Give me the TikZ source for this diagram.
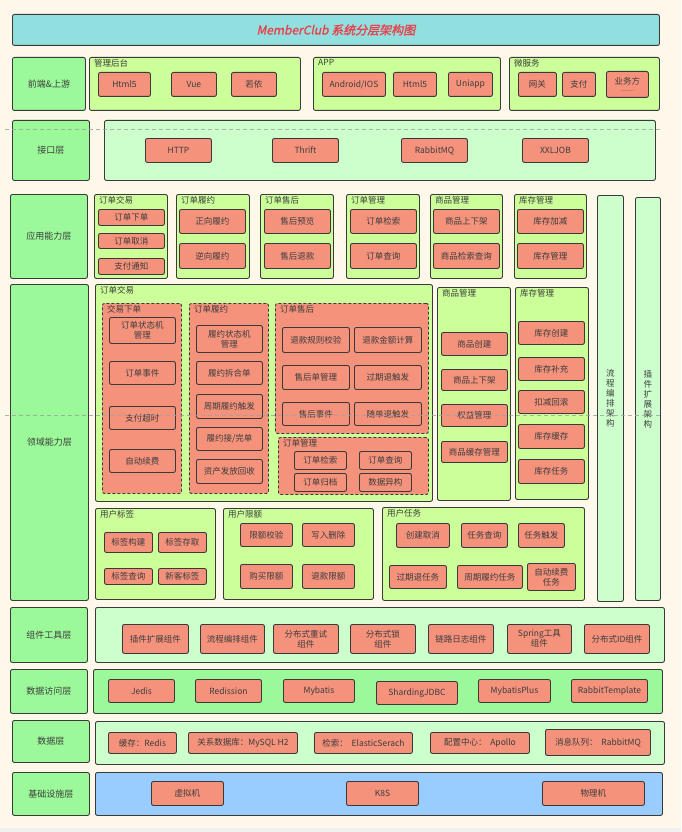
\documentclass[tikz,border=0pt]{standalone}
\usepackage{fontspec}
\setmainfont{Noto Sans CJK SC}
\newfontfamily\titlefont[FakeSlant=0.2,FakeBold=1.5]{Noto Sans CJK SC}
\usetikzlibrary{calc}
\definecolor{bgc}{HTML}{FDF8EA}
\definecolor{stripc}{HTML}{EFEFEF}
\definecolor{edge}{HTML}{3A3A3A}
\definecolor{txt}{HTML}{3C3C3C}
\definecolor{titlec}{HTML}{92DFE0}
\definecolor{titlered}{HTML}{E8414A}
\definecolor{labg}{HTML}{9CF99A}
\definecolor{lime}{HTML}{CCFF99}
\definecolor{mint}{HTML}{CCFFCC}
\definecolor{bluec}{HTML}{99CCFF}
\definecolor{salmon}{HTML}{F5927C}
\tikzset{
  base/.style={draw=edge, line width=0.9pt, rounded corners=2pt, inner sep=0pt,
    align=center, text=txt, font=\fontsize{8.5}{10}\selectfont},
  titlebar/.style={base, fill=titlec, text=titlered, font=\titlefont\fontsize{12}{14}\selectfont},
  layerlab/.style={base, fill=labg, font=\fontsize{9}{11}\selectfont},
  grp/.style={base, fill=lime},
  mintgrp/.style={base, fill=mint},
  greengrp/.style={base, fill=labg},
  bluegrp/.style={base, fill=bluec},
  item/.style={base, fill=salmon},
  vcol/.style={base, fill=mint, font=\fontsize{8.5}{10}\selectfont},
  subgrp/.style={base, fill=salmon, dash pattern=on 3pt off 2pt},
  gtitle/.style={inner sep=0pt, anchor=north west, text=txt, font=\fontsize{8.5}{10}\selectfont},
  sepline/.style={draw=gray!75, line width=0.6pt, dash pattern=on 4pt off 3pt, opacity=0.8},
}
% #1 style, #2 name, #3 x1, #4 y1, #5 x2, #6 y2, #7 text
\newcommand\bx[7]{\node[#1, anchor=north west, minimum width={(#5-#3)*1pt}, minimum height={(#6-#4)*1pt}] (#2) at (#3,#4) {#7};}
% group title: #1 name, #2 group node, #3 text
\newcommand\gt[3]{\node[gtitle] (#1) at ($(#2.north west)+(5,2)$) {#3};}
\begin{document}
\begin{tikzpicture}[x=1pt,y=-1pt]
\useasboundingbox (0,0) rectangle (681,832);
\fill[bgc] (0,0) rectangle (681,832);
\fill[stripc] (0,828) rectangle (681,832);

% title
\bx{titlebar}{title}{12}{14}{659}{45}{MemberClub 系统分层架构图}

% row 1
\bx{layerlab}{Lfront}{12}{57}{85}{110}{前端\&上游}
\bx{grp}{Gadmin}{89}{57}{300}{110}{}
\gt{Tadmin}{Gadmin}{管理后台}
\bx{item}{Ahtml}{98}{72}{150}{96}{Html5}
\bx{item}{Avue}{171}{72}{216}{96}{Vue}
\bx{item}{Aruoyi}{231}{72}{276}{96}{若依}
\bx{grp}{Gapp}{313}{57}{500}{110}{}
\gt{Tapp}{Gapp}{APP}
\bx{item}{Pand}{322}{72}{385}{96}{Android/IOS}
\bx{item}{Phtml}{393}{72}{436}{96}{Html5}
\bx{item}{Puni}{448}{72}{492}{96}{Uniapp}
\bx{grp}{Gms}{509}{57}{659}{110}{}
\gt{Tms}{Gms}{微服务}
\bx{item}{Mgw}{518}{72}{556}{96}{网关}
\bx{item}{Mpay}{562}{72}{595}{96}{支付}
\bx{item}{Mbiz}{606}{71}{648}{97}{业务方\\[-3pt]{\fontsize{6}{6}\selectfont ........}}

% row 2
\bx{layerlab}{Lapi}{12}{120}{89}{180}{接口层}
\bx{mintgrp}{Gapi}{104}{120}{655}{180}{}
\bx{item}{Ihttp}{145}{138}{211}{162}{HTTP}
\bx{item}{Ithrift}{272}{138}{338}{162}{Thrift}
\bx{item}{Irmq}{401}{138}{467}{162}{RabbitMQ}
\bx{item}{Ixxl}{522}{138}{588}{162}{XXLJOB}

% row 3 application
\bx{layerlab}{Lappc}{10}{194}{87}{278}{应用能力层}
\bx{grp}{Gtrade}{94}{194}{167}{278}{}
\gt{Ttrade}{Gtrade}{订单交易}
\bx{item}{Ta1}{98}{209}{164}{225}{订单下单}
\bx{item}{Ta2}{98}{233}{164}{248}{订单取消}
\bx{item}{Ta3}{98}{258}{164}{274}{支付通知}
\bx{grp}{Gful}{176}{194}{249}{278}{}
\gt{Tful}{Gful}{订单履约}
\bx{item}{Fa1}{179}{209}{245}{233}{正向履约}
\bx{item}{Fa2}{179}{243}{245}{268}{逆向履约}
\bx{grp}{Gafter}{260}{194}{333}{278}{}
\gt{Tafter}{Gafter}{订单售后}
\bx{item}{Sa1}{264}{209}{330}{233}{售后预览}
\bx{item}{Sa2}{264}{243}{330}{268}{售后退款}
\bx{grp}{Gomg}{346}{194}{419}{278}{}
\gt{Tomg}{Gomg}{订单管理}
\bx{item}{Oa1}{350}{209}{416}{233}{订单检索}
\bx{item}{Oa2}{350}{243}{416}{268}{订单查询}
\bx{grp}{Ggoods}{430}{194}{502}{278}{}
\gt{Tgoods}{Ggoods}{商品管理}
\bx{item}{Ga1}{433}{209}{499}{233}{商品上下架}
\bx{item}{Ga2}{433}{243}{499}{268}{商品检索查询}
\bx{grp}{Gstock}{514}{194}{586}{278}{}
\gt{Tstock}{Gstock}{库存管理}
\bx{item}{Ka1}{517}{209}{583}{233}{库存加减}
\bx{item}{Ka2}{517}{243}{583}{268}{库存管理}

% vertical columns
\bx{vcol}{Cflow}{597}{195}{623}{601}{流\\程\\编\\排\\架\\构}
\bx{vcol}{Cplug}{635}{197}{660}{600}{插\\件\\扩\\展\\架\\构}

% row 4 domain
\bx{layerlab}{Ldom}{10}{284}{88}{600}{领域能力层}
\bx{grp}{Dtrade}{95}{284}{432}{501}{}
\gt{DTtrade}{Dtrade}{订单交易}
\bx{subgrp}{Sorder}{102}{303}{181}{493}{}
\gt{STorder}{Sorder}{交易下单}
\bx{item}{So1}{109}{317}{175}{343}{订单状态机\\管理}
\bx{item}{So2}{109}{361}{175}{384}{订单事件}
\bx{item}{So3}{109}{406}{175}{429}{支付超时}
\bx{item}{So4}{109}{449}{175}{472}{自动续费}
\bx{subgrp}{Sful}{189}{303}{268}{493}{}
\gt{STful}{Sful}{订单履约}
\bx{item}{Sf1}{196}{325}{262}{352}{履约状态机\\管理}
\bx{item}{Sf2}{196}{361}{262}{384}{履约拆合单}
\bx{item}{Sf3}{196}{394}{262}{418}{周期履约触发}
\bx{item}{Sf4}{196}{427}{262}{450}{履约接/完单}
\bx{item}{Sf5}{196}{459}{262}{483}{资产发放回收}
\bx{subgrp}{Safter}{275}{303}{428}{433}{}
\gt{STafter}{Safter}{订单售后}
\bx{item}{Ss1}{282}{327}{349}{352}{退款规则校验}
\bx{item}{Ss2}{354}{327}{421}{352}{退款金额计算}
\bx{item}{Ss3}{282}{365}{349}{389}{售后单管理}
\bx{item}{Ss4}{354}{365}{421}{389}{过期退触发}
\bx{item}{Ss5}{282}{402}{349}{425}{售后事件}
\bx{item}{Ss6}{354}{402}{421}{425}{随单退触发}
\bx{subgrp}{Somg}{278}{437}{428}{494}{}
\gt{STomg}{Somg}{订单管理}
\bx{item}{Sm1}{294}{451}{346}{469}{订单检索}
\bx{item}{Sm2}{359}{451}{411}{469}{订单查询}
\bx{item}{Sm3}{294}{473}{346}{491}{订单归档}
\bx{item}{Sm4}{359}{473}{411}{491}{数据异构}
\bx{grp}{Dgoods}{437}{287}{510}{500}{}
\gt{DTgoods}{Dgoods}{商品管理}
\bx{item}{Dg1}{441}{332}{507}{355}{商品创建}
\bx{item}{Dg2}{441}{369}{507}{390}{商品上下架}
\bx{item}{Dg3}{441}{404}{507}{426}{权益管理}
\bx{item}{Dg4}{441}{441}{507}{462}{商品缓存管理}
\bx{grp}{Dstock}{515}{287}{588}{499}{}
\gt{DTstock}{Dstock}{库存管理}
\bx{item}{Dk1}{518}{321}{584}{344}{库存创建}
\bx{item}{Dk2}{518}{357}{584}{380}{库存补充}
\bx{item}{Dk3}{518}{390}{584}{413}{扣减回滚}
\bx{item}{Dk4}{518}{424}{584}{448}{库存缓存}
\bx{item}{Dk5}{518}{459}{584}{483}{库存任务}

\bx{grp}{Dtag}{95}{508}{215}{599}{}
\gt{DTtag}{Dtag}{用户标签}
\bx{item}{Ut1}{104}{532}{152}{552}{标签构建}
\bx{item}{Ut2}{158}{532}{206}{552}{标签存取}
\bx{item}{Ut3}{104}{568}{152}{584}{标签查询}
\bx{item}{Ut4}{158}{568}{206}{584}{新客标签}
\bx{grp}{Dlim}{223}{508}{373}{599}{}
\gt{DTlim}{Dlim}{用户限额}
\bx{item}{Ul1}{240}{523}{292}{546}{限额校验}
\bx{item}{Ul2}{302}{523}{354}{546}{写入删除}
\bx{item}{Ul3}{240}{564}{292}{588}{购买限额}
\bx{item}{Ul4}{302}{564}{354}{588}{退款限额}
\bx{grp}{Dtask}{382}{507}{584}{600}{}
\gt{DTtask}{Dtask}{用户任务}
\bx{item}{Uk1}{396}{523}{449}{547}{创建取消}
\bx{item}{Uk2}{461}{523}{507}{547}{任务查询}
\bx{item}{Uk3}{518}{523}{564}{547}{任务触发}
\bx{item}{Uk4}{389}{565}{446}{588}{过期退任务}
\bx{item}{Uk5}{457}{565}{522}{588}{周期履约任务}
\bx{item}{Uk6}{527}{563}{575}{590}{自动续费\\任务}

% row 5 components
\bx{layerlab}{Lcomp}{10}{607}{87}{662}{组件工具层}
\bx{mintgrp}{Gcomp}{95}{607}{664}{662}{}
\bx{item}{C1}{122}{624}{188}{653}{插件扩展组件}
\bx{item}{C2}{200}{624}{264}{653}{流程编排组件}
\bx{item}{C3}{273}{624}{338}{653}{分布式重试\\组件}
\bx{item}{C4}{350}{624}{415}{653}{分布式锁\\组件}
\bx{item}{C5}{428}{624}{493}{653}{链路日志组件}
\bx{item}{C6}{507}{624}{571}{653}{Spring工具\\组件}
\bx{item}{C7}{584}{624}{649}{653}{分布式ID组件}

% row 6 data access
\bx{layerlab}{Lda}{10}{669}{87}{713}{数据访问层}
\bx{greengrp}{Gda}{93}{669}{662}{713}{}
\bx{item}{Da1}{108}{679}{174}{702}{Jedis}
\bx{item}{Da2}{195}{679}{261}{702}{Redission}
\bx{item}{Da3}{283}{679}{354}{702}{Mybatis}
\bx{item}{Da4}{376}{681}{457}{704}{ShardingJDBC}
\bx{item}{Da5}{478}{679}{550}{702}{MybatisPlus}
\bx{item}{Da6}{571}{679}{647}{702}{RabbitTemplate}

% row 7 data
\bx{layerlab}{Ldata}{12}{720}{89}{762}{数据层}
\bx{mintgrp}{Gdata}{95}{721}{664}{764}{}
\bx{item}{Dt1}{108}{732}{176}{753}{缓存：Redis}
\bx{item}{Dt2}{188}{732}{297}{753}{关系数据库：MySQL H2}
\bx{item}{Dt3}{314}{732}{412}{753}{检索：\ \ ElasticSerach}
\bx{item}{Dt4}{430}{732}{529}{753}{配置中心：\ \ Apollo}
\bx{item}{Dt5}{545}{729}{650}{755}{消息队列：\ \ RabbitMQ}

% row 8 infrastructure
\bx{layerlab}{Linfra}{12}{772}{89}{815}{基础设施层}
\bx{bluegrp}{Ginfra}{95}{772}{662}{815}{}
\bx{item}{In1}{151}{781}{223}{805}{虚拟机}
\bx{item}{In2}{346}{781}{418}{805}{K8S}
\bx{item}{In3}{542}{781}{644}{805}{物理机}

% separator lines
\coordinate (s1a) at (5,129);
\coordinate (s1b) at (662,129);
\coordinate (s2a) at (5,415);
\coordinate (s2b) at (662,415);
\draw[sepline] (s1a) -- (s1b);
\draw[sepline] (s2a) -- (s2b);
\end{tikzpicture}
\end{document}
